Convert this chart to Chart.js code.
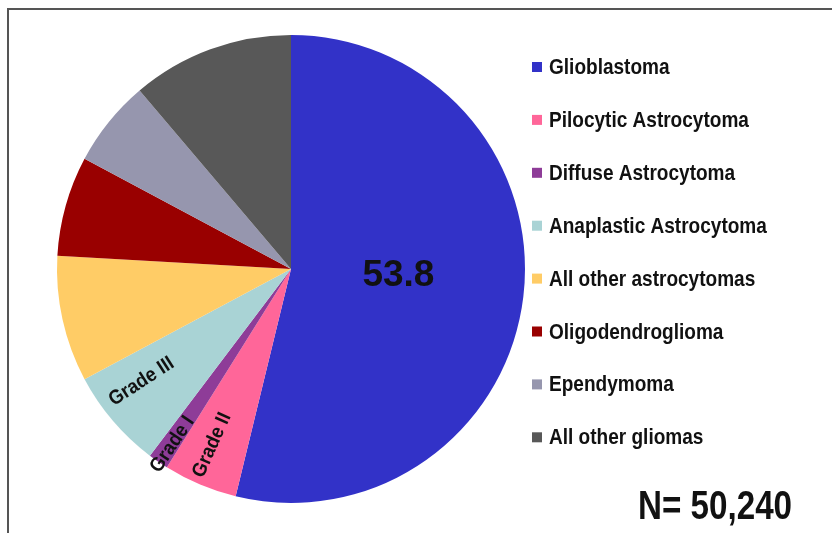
<!DOCTYPE html>
<html>
<head>
<meta charset="utf-8">
<script src="https://cdn.jsdelivr.net/npm/chart.js@4"></script>
<style>
  html, body { margin: 0; padding: 0; background: #fff; }
  #wrap { position: relative; width: 832px; height: 533px; }
</style>
</head>
<body>
<div id="wrap"><canvas id="chart" width="832" height="533"></canvas></div>
<script>
// glioma subtypes, percent of all gliomas
const labels = [
    "Glioblastoma",
    "Pilocytic Astrocytoma",
    "Diffuse Astrocytoma",
    "Anaplastic Astrocytoma",
    "All other astrocytomas",
    "Oligodendroglioma",
    "Ependymoma",
    "All other gliomas"
];
const percents = [53.8, 5.1, 1.4, 6.9, 8.7, 6.9, 6.0, 11.2];
const colors = ["#3232c8", "#ff6699", "#8e3c98", "#a9d3d5", "#ffcc66", "#990000", "#9696ae", "#585858"];
// text drawn on slices: [slice index, text]
const sliceText = [[0, "53.8"], [1, "Grade II"], [2, "Grade I"], [3, "Grade III"]];
const totalText = "N= 50,240";

const sans = "'Liberation Sans', Arial, sans-serif";

// where the slice texts sit: radius fraction, angle shift (deg), rotation (deg), font, x-squeeze
const textStyle = {
    0: {r: 0.46, shift: -3, rot: 0, font: "bold 37px " + sans, sx: 1},
    1: {r: 0.825, shift: 1.3, rot: -66, font: "bold 20px " + sans, sx: 0.92},
    2: {r: 0.905, shift: -0.5, rot: -56, font: "bold 20px " + sans, sx: 0.92},
    3: {r: 0.80, shift: 3.5, rot: -33, font: "bold 20px " + sans, sx: 0.92}
};

// draw text squeezed horizontally, like the condensed font of the original
function squeezed(ctx, txt, x, y, sx) {
    ctx.save();
    ctx.translate(x, y);
    ctx.scale(sx, 1);
    ctx.fillText(txt, 0, 0);
    ctx.restore();
}

const decorations = {
    id: "decorations",
    beforeDraw(chart) {
        const ctx = chart.ctx;
        ctx.save();
        ctx.fillStyle = "#fff";
        ctx.fillRect(0, 0, chart.width, chart.height);
        // frame
        ctx.strokeStyle = "#555";
        ctx.lineWidth = 2;
        ctx.beginPath();
        ctx.moveTo(8, chart.height);
        ctx.lineTo(8, 9);
        ctx.lineTo(chart.width, 9);
        ctx.stroke();
        ctx.restore();
    },
    afterDraw(chart) {
        const ctx = chart.ctx;
        const arcs = chart.getDatasetMeta(0).data;
        ctx.save();
        ctx.fillStyle = "#111";
        ctx.textAlign = "center";
        ctx.textBaseline = "middle";
        sliceText.forEach(([i, txt]) => {
            const a = arcs[i];
            const st = textStyle[i];
            const mid = (a.startAngle + a.endAngle) / 2 + st.shift * Math.PI / 180;
            const rr = a.outerRadius * st.r;
            ctx.save();
            ctx.translate(a.x + Math.cos(mid) * rr, a.y + Math.sin(mid) * rr);
            ctx.rotate(st.rot * Math.PI / 180);
            ctx.font = st.font;
            squeezed(ctx, txt, 0, 0, st.sx);
            ctx.restore();
        });

        // legend
        ctx.textAlign = "left";
        ctx.font = "bold 22px " + sans;
        labels.forEach((lab, i) => {
            const y = 67 + i * 52.9;
            ctx.fillStyle = colors[i];
            ctx.fillRect(532, y - 5, 10, 10);
            ctx.fillStyle = "#111";
            squeezed(ctx, lab, 549, y + 1, 0.865);
        });

        ctx.font = "bold 40px " + sans;
        ctx.textAlign = "center";
        squeezed(ctx, totalText, 715, 508, 0.83);
        ctx.restore();
    }
};

new Chart(document.getElementById("chart"), {
    type: "pie",
    data: {
        labels: labels,
        datasets: [{
            data: percents,
            backgroundColor: colors,
            borderWidth: 0
        }]
    },
    options: {
        responsive: false,
        animation: false,
        layout: {padding: {left: 57, top: 35, bottom: 30, right: 307}},
        plugins: {
            legend: {display: false},
            tooltip: {enabled: false}
        }
    },
    plugins: [decorations]
});
</script>
</body>
</html>
